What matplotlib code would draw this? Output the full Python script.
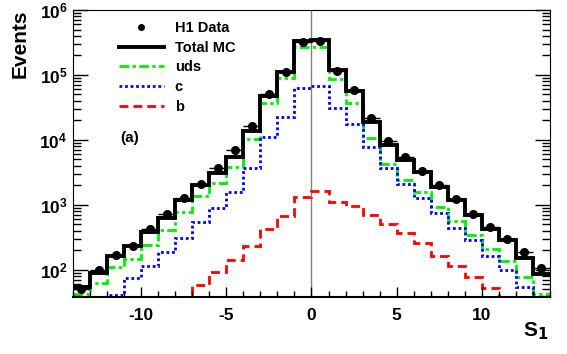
import numpy as np
from matplotlib import pyplot as plt

plt.rcParams['font.family'] = ['Liberation Sans', 'DejaVu Sans']
plt.rcParams['axes.unicode_minus'] = False

# bin edges of S1
edges = np.arange(-14, 15, 1)

# H1 data points (bin centres)
data = [50, 100, 170, 234, 423, 720, 1270, 2100, 3750, 7100, 16400, 51500, 111000, 322000,
        337000, 116000, 58900, 21500, 9650, 5530, 3370, 2030, 1225, 720, 448, 300, 189, 108]
# Monte Carlo histograms
total_mc = [55, 89, 164, 229, 375, 624, 1165, 1983, 3140, 5530, 13900, 48000, 112000, 337000,
            345000, 119000, 57400, 19100, 8380, 4920, 3220, 1910, 1165, 695, 420, 282, 151, 87]
uds = [42, 62, 112, 146, 243, 403, 780, 1342, 2150, 3880, 10350, 36700, 91000, 267000,
       267000, 86700, 37500, 10600, 4250, 2370, 1567, 930, 553, 337, 208, 134, 77, 43]
c = [25, 30, 41, 74, 115, 185, 313, 535, 889, 1550, 3660, 11250, 22800, 62400,
     67800, 30700, 17600, 7700, 3750, 2100, 1268, 750, 443, 282, 160, 98, 55, 30]
b = [20, 20, 20, 20, 20, 20, 25, 59, 91, 143, 229, 423, 661, 1298,
     1603, 1087, 966, 701, 511, 367, 257, 164, 115, 77, 52, 25, 25, 25]

centers = 0.5 * (edges[:-1] + edges[1:])

fig = plt.figure(figsize=(5.67, 3.54), dpi=100)
ax = fig.add_axes([0.1287, 0.161, 0.8413, 0.8108])

ax.axvline(0, color='#808080', lw=1, zorder=1)

ax.stairs(uds, edges, baseline=None, color='#00ee00', lw=2.0, ls=(0, (3.5, 1.2, 1.2, 1.2)), label='uds')
ax.stairs(c, edges, baseline=None, color='#0000ff', lw=2.0, ls=(0, (1, 1)), label='c')
ax.stairs(b, edges, baseline=None, color='#ff0000', lw=2.0, ls=(0, (3.2, 1.8)), label='b')
ax.stairs(total_mc, edges, baseline=None, color='black', lw=2.8, label='Total MC')
ax.errorbar(centers, data, xerr=0.5, fmt='o', color='black', ms=5.5, elinewidth=1, capsize=0, zorder=5)
ax.plot([], [], 'o', color='black', ms=4, label='H1 Data')

ax.set_yscale('log')
ax.set_xlim(-14, 14)
ax.set_ylim(38, 1e6)

ax.tick_params(which='both', direction='in', right=True, top=False)
ax.tick_params(axis='y', which='major', length=11, width=1)
ax.tick_params(axis='y', which='minor', length=6, width=1)
ax.tick_params(axis='x', which='major', length=7, width=1)
ax.tick_params(axis='x', which='minor', length=4.5, width=1)
ax.set_xticks([-10, -5, 0, 5, 10])
ax.set_xticks(np.arange(-14, 15, 1), minor=True)
for lab in ax.get_xticklabels() + ax.get_yticklabels():
    lab.set_fontsize(12.5)
    lab.set_fontweight('bold')
ax.tick_params(axis='x', pad=8)
ax.tick_params(axis='y', pad=4)
ax.spines['bottom'].set_linewidth(1.5)

ax.set_ylabel('Events', fontsize=15, fontweight='bold', loc='top')
ax.yaxis.set_label_coords(-0.09, 1.0)
ax.text(0.97, -0.12, 'S$_\\mathbf{1}$', transform=ax.transAxes, fontsize=15, fontweight='bold',
        ha='center', va='center')
ax.text(-11.2, 1.05e4, '(a)', fontsize=11, fontweight='bold', ha='left', va='center')

handles, labels = ax.get_legend_handles_labels()
order = ['H1 Data', 'Total MC', 'uds', 'c', 'b']
hd = dict(zip(labels, handles))
ax.legend([hd[k] for k in order], order, loc='upper left', bbox_to_anchor=(0.068, 1.008),
          frameon=False, prop={'size': 10.5, 'weight': 'bold'}, handlelength=3.1,
          handletextpad=0.75, labelspacing=0.4)

fig.savefig('out.png', dpi=100)
